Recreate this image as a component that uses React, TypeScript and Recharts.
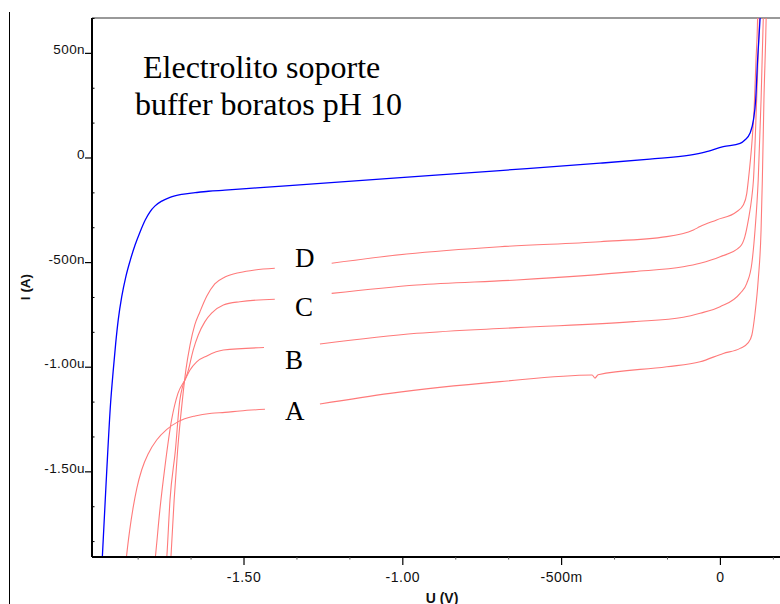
import React from 'react';
import { LineChart, Line, XAxis, YAxis, ReferenceLine, Customized } from 'recharts';

// Axis domains (U in volts, I in nA)
const X_DOMAIN: [number, number] = [-1.9786, 0.1876];
const Y_DOMAIN: [number, number] = [-1907, 669];

// Tick values and labels
const X_MAJOR = [-1.5, -1.0, -0.5, 0];
const X_MAJOR_LABELS = ['-1.50', '-1.00', '-500m', '0'];
const X_MINOR = [-1.8333, -1.6667, -1.3333, -1.1667, -0.8333, -0.6667, -0.3333, -0.1667, 0.1667];
const Y_MAJOR = [500, 0, -500, -1000, -1500];
const Y_MAJOR_LABELS = ['500n', '0', '-500n', '-1.00u', '-1.50u'];
const Y_MINOR = [666.7, 333.3, 166.7, -166.7, -333.3, -666.7, -833.3, -1166.7, -1333.3, -1666.7, -1833.3];

// Electrolito soporte (blue)
const BLUE_U = [-1.952, -1.946, -1.933, -1.92, -1.912, -1.904, -1.896, -1.885, -1.872, -1.858, -1.843, -1.827, -1.811, -1.796, -1.78, -1.759, -1.733, -1.696, -1.654, -1.612, -1.56, -1.46, -1.04, -0.694, -0.379, -0.222, -0.096, -0.049, 0.009, 0.062, 0.077, 0.093, 0.104, 0.111, 0.117, 0.125, 0.128];
const BLUE_I = [-2113, -1906, -1520, -1170, -1020, -886, -774, -663, -567, -488, -416, -352, -296, -257, -229, -206, -188, -174, -166, -159, -154, -143, -97, -60, -25, -5, 14, 28, 54, 70, 86, 118, 182, 277, 468, 669, 755];

// Curve D
const D_U = [-1.739, -1.73, -1.72, -1.709, -1.694, -1.683, -1.67, -1.655, -1.639, -1.617, -1.592, -1.56, -1.513, -1.466, -1.403, -1.31, -1.224, -0.988, -0.694, -0.379, -0.169, -0.085, -0.064, -0.012, 0.051, 0.072, 0.083, 0.088, 0.099, 0.106, 0.112, 0.117, 0.118];
const D_I = [-2113, -1906, -1635, -1396, -1157, -1013, -894, -798, -736, -660, -602, -569, -547, -535, -527, null, -503, -459, -424, -400, -376, -344, -328, -296, -257, -225, -169, -105, 70, 229, 468, 669, 755];

// Curve C
const C_U = [-1.755, -1.743, -1.733, -1.716, -1.702, -1.675, -1.66, -1.644, -1.623, -1.602, -1.565, -1.513, -1.403, -1.31, -1.224, -0.956, -0.641, -0.274, -0.117, -0.064, -0.001, 0.062, 0.077, 0.088, 0.099, 0.104, 0.114, 0.123, 0.125];
const C_I = [-2113, -1906, -1635, -1396, -1157, -1013, -918, -846, -782, -742, -703, -687, -675, null, -647, -607, -583, -543, -520, -503, -472, -424, -376, -296, -185, -105, 277, 669, 755];

// Curve B
const B_U = [-1.796, -1.779, -1.765, -1.749, -1.728, -1.708, -1.686, -1.67, -1.649, -1.617, -1.565, -1.437, -1.35, -1.261, -0.956, -0.641, -0.274, -0.117, -0.064, -0.001, 0.062, 0.083, 0.099, 0.109, 0.119, 0.128, 0.135, 0.137];
const B_I = [-2113, -1906, -1683, -1476, -1252, -1125, -1061, -1013, -974, -946, -918, -906, null, -889, -838, -811, -782, -761, -742, -711, -647, -599, -503, -344, -105, 277, 669, 755];

// Curve A
const A_U = [-1.882, -1.87, -1.86, -1.849, -1.837, -1.822, -1.801, -1.775, -1.743, -1.707, -1.654, -1.602, -1.56, -1.513, -1.434, -1.35, -1.261, -1.04, -0.694, -0.404, -0.395, -0.385, -0.169, -0.064, 0.009, 0.062, 0.087, 0.099, 0.109, 0.119, 0.128, 0.132, 0.137, 0.144, 0.145];
const A_I = [-2113, -1906, -1780, -1670, -1575, -1490, -1412, -1348, -1297, -1260, -1233, -1220, -1216, -1209, -1201, null, -1176, -1125, -1069, -1037, -1052, -1036, -998, -974, -934, -910, -884, -846, -742, -583, -344, -105, 277, 669, 755];

const TITLE_LINES = ['Electrolito soporte', 'buffer boratos pH 10'];
const CURVE_NAMES = ['D', 'C', 'B', 'A'];

const toPoints = (us: number[], is: (number | null)[]) => us.map((u, k) => ({ u, i: is[k] }));

const blueData = toPoints(BLUE_U, BLUE_I);
const dData = toPoints(D_U, D_I);
const cData = toPoints(C_U, C_I);
const bData = toPoints(B_U, B_I);
const aData = toPoints(A_U, A_I);

const SANS = "'Liberation Sans', Arial, sans-serif";
const SERIF = "'Liberation Serif', 'Times New Roman', serif";
const RED = '#ff7a7a';

const YTick = (props: any) => {
  const { x, y, payload } = props;
  const idx = Y_MAJOR.indexOf(payload.value);
  if (idx >= 0) {
    return (
      <g>
        <line x1={x - 7} x2={x} y1={y} y2={y} stroke="#000" strokeWidth={1.2} />
        <text x={x - 7} y={y + 1} textAnchor="end" fontFamily={SANS} fontSize={13.5} letterSpacing={0.4} fill="#111">
          {Y_MAJOR_LABELS[idx]}
        </text>
      </g>
    );
  }
  return <line x1={x} x2={x + 2.5} y1={y} y2={y} stroke="#000" strokeWidth={1} />;
};

const XTick = (props: any) => {
  const { x, y, payload } = props;
  const idx = X_MAJOR.indexOf(payload.value);
  if (idx >= 0) {
    return (
      <g>
        <line x1={x} x2={x} y1={y} y2={y + 8} stroke="#000" strokeWidth={1.2} />
        <text x={x} y={y + 25} textAnchor="middle" fontFamily={SANS} fontSize={14} letterSpacing={0.5} fill="#111">
          {X_MAJOR_LABELS[idx]}
        </text>
      </g>
    );
  }
  return <line x1={x} x2={x} y1={y} y2={y + 2.5} stroke="#555" strokeWidth={1} />;
};

const CURVE_LABEL_POS = [
  { x: 295, y: 267 },
  { x: 295, y: 315.5 },
  { x: 285, y: 368.5 },
  { x: 285, y: 420 },
];

const Annotations = () => (
  <g>
    <text x={143} y={77.5} fontFamily={SERIF} fontSize={32} fill="#000">{TITLE_LINES[0]}</text>
    <text x={135} y={115} fontFamily={SERIF} fontSize={32} fill="#000">{TITLE_LINES[1]}</text>
    {CURVE_NAMES.map((n, k) => (
      <text key={n} x={CURVE_LABEL_POS[k].x} y={CURVE_LABEL_POS[k].y} fontFamily={SERIF} fontSize={27} fill="#000">{n}</text>
    ))}
    <text x={30} y={287} transform="rotate(-90 30 287)" textAnchor="middle" fontFamily={SANS} fontWeight="bold" fontSize={13.5} fill="#111">I (A)</text>
    <text x={442} y={602.5} textAnchor="middle" fontFamily={SANS} fontWeight="bold" fontSize={14} fill="#111">U (V)</text>
  </g>
);

export default function App() {
  return (
    <div style={{ position: 'absolute', left: 0, top: 0, width: 780, height: 604, background: '#fff', overflow: 'hidden' }}>
      <div style={{ position: 'absolute', left: 9, top: 12, width: 1.4, height: 592, background: '#000' }} />
      <LineChart width={780} height={604} margin={{ top: 18, right: 0, bottom: 0, left: 2 }}>
        <XAxis
          dataKey="u"
          type="number"
          domain={X_DOMAIN}
          allowDataOverflow
          ticks={[...X_MINOR, ...X_MAJOR].sort((a, b) => a - b)}
          interval={0}
          tick={<XTick />}
          tickSize={0}
          tickMargin={0}
          height={47}
          axisLine={{ stroke: '#000', strokeWidth: 2 }}
        />
        <YAxis
          dataKey="i"
          type="number"
          domain={Y_DOMAIN}
          allowDataOverflow
          ticks={[...Y_MINOR, ...Y_MAJOR].sort((a, b) => a - b)}
          interval={0}
          tick={<YTick />}
          tickSize={0}
          tickMargin={0}
          width={90}
          axisLine={{ stroke: '#000', strokeWidth: 2 }}
        />
        <ReferenceLine y={Y_DOMAIN[1]} stroke="#777" strokeWidth={1.5} />
        <Line data={aData} dataKey="i" type="monotone" stroke={RED} strokeWidth={1.1} dot={false} activeDot={false} isAnimationActive={false} />
        <Line data={bData} dataKey="i" type="monotone" stroke={RED} strokeWidth={1.1} dot={false} activeDot={false} isAnimationActive={false} />
        <Line data={cData} dataKey="i" type="monotone" stroke={RED} strokeWidth={1.1} dot={false} activeDot={false} isAnimationActive={false} />
        <Line data={dData} dataKey="i" type="monotone" stroke={RED} strokeWidth={1.1} dot={false} activeDot={false} isAnimationActive={false} />
        <Line data={blueData} dataKey="i" type="monotone" stroke="#0000ff" strokeWidth={1.3} dot={false} activeDot={false} isAnimationActive={false} />
        <Customized component={<Annotations />} />
      </LineChart>
    </div>
  );
}
